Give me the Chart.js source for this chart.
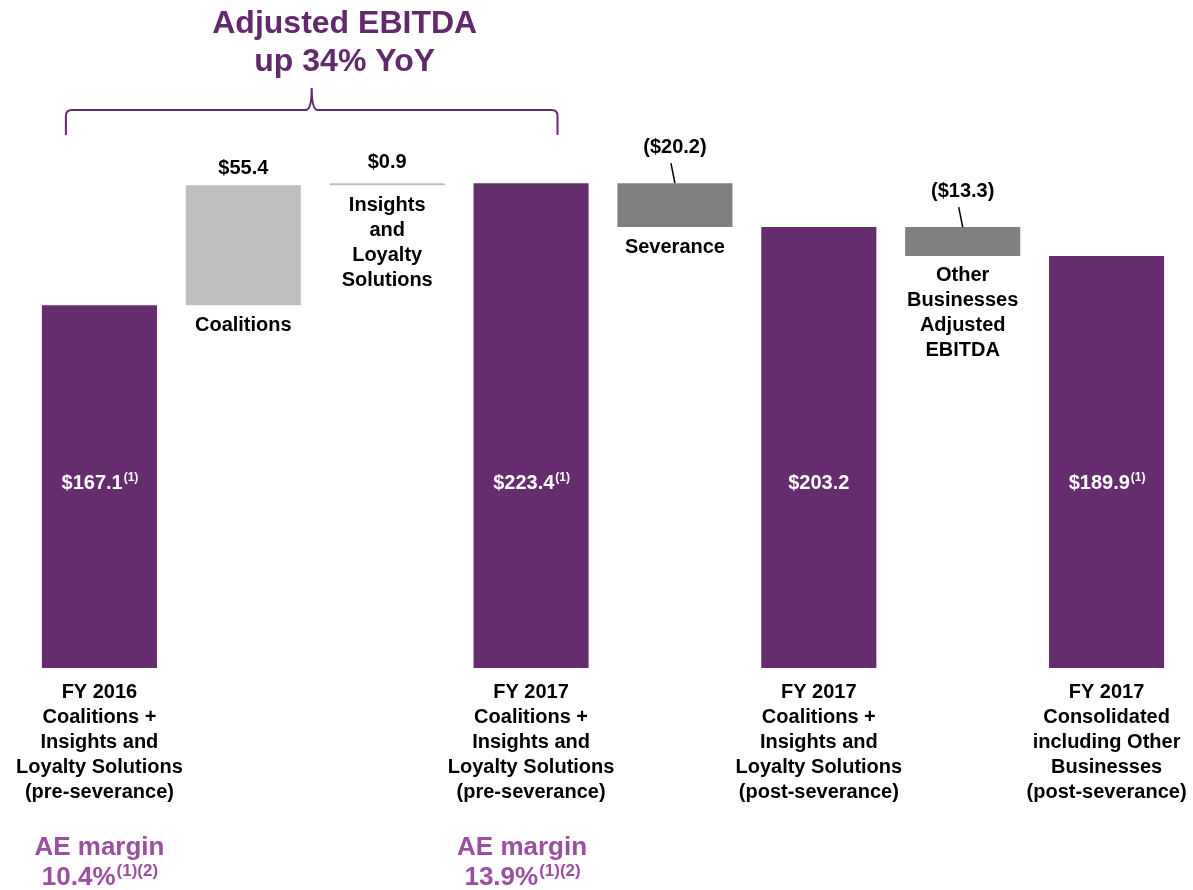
<!DOCTYPE html>
<html>
<head>
<meta charset="utf-8">
<script src="https://cdn.jsdelivr.net/npm/chart.js@4.4.1/dist/chart.umd.min.js"></script>
<style>
  html, body { margin: 0; padding: 0; background: #fff; }
  #wrap { width: 1193px; height: 890px; position: relative; }
</style>
</head>
<body>
<div id="wrap"><canvas id="bridgeChart"></canvas></div>
<script>
// --- data ---
const categories = [
  ['FY 2016', 'Coalitions +', 'Insights and', 'Loyalty Solutions', '(pre-severance)'],
  ['Coalitions'],
  ['Insights', 'and', 'Loyalty', 'Solutions'],
  ['FY 2017', 'Coalitions +', 'Insights and', 'Loyalty Solutions', '(pre-severance)'],
  ['Severance'],
  ['FY 2017', 'Coalitions +', 'Insights and', 'Loyalty Solutions', '(post-severance)'],
  ['Other', 'Businesses', 'Adjusted', 'EBITDA'],
  ['FY 2017', 'Consolidated', 'including Other', 'Businesses', '(post-severance)']
];
const barKinds = ['total', 'increase', 'increase', 'total', 'decrease', 'total', 'decrease', 'total'];
const values = [167.1, 55.4, 0.9, 223.4, -20.2, 203.2, -13.3, 189.9];
const valueLabels = ['$167.1', '$55.4', '$0.9', '$223.4', '($20.2)', '$203.2', '($13.3)', '$189.9'];
const valueNotes = ['(1)', '', '', '(1)', '', '', '', '(1)'];
const marginBars = [0, 3];
const marginValues = ['10.4%', '13.9%'];
const marginNote = '(1)(2)';
const titleLines = ['Adjusted EBITDA', 'up 34% YoY'];

const colors = { total: '#652D6D', increase: '#BFBFBF', decrease: '#808080' };

// floating ranges for the bridge, built from the running total
let running = 0;
const ranges = values.map((v, i) => {
  if (barKinds[i] === 'total') { running = v; return [0, v]; }
  const start = running;
  running = +(running + v).toFixed(1);
  return [Math.min(start, running), Math.max(start, running)];
});

const FONT = '"Liberation Sans", Arial, sans-serif';

function textWithNote(ctx, main, note, cx, cy, size, noteSize, raise) {
  ctx.font = `bold ${size}px ${FONT}`;
  const w1 = ctx.measureText(main).width;
  ctx.font = `bold ${noteSize}px ${FONT}`;
  const w2 = note ? ctx.measureText(note).width : 0;
  const left = cx - (w1 + w2) / 2;
  ctx.textAlign = 'left';
  ctx.font = `bold ${size}px ${FONT}`;
  ctx.fillText(main, left, cy);
  if (note) {
    ctx.font = `bold ${noteSize}px ${FONT}`;
    ctx.fillText(note, left + w1 + 1, cy - raise);
  }
  ctx.textAlign = 'center';
}

const annotate = {
  id: 'annotate',
  afterDatasetsDraw(chart) {
    const ctx = chart.ctx;
    const yScale = chart.scales.y;
    const meta = chart.getDatasetMeta(0);
    ctx.save();
    ctx.textAlign = 'center';
    ctx.textBaseline = 'middle';

    meta.data.forEach((bar, i) => {
      const kind = barKinds[i];
      const top = Math.min(bar.y, bar.base);
      const bottom = Math.max(bar.y, bar.base);
      if (kind === 'total') {
        ctx.fillStyle = '#ffffff';
        textWithNote(ctx, valueLabels[i], valueNotes[i], bar.x, yScale.getPixelForValue(85), 20, 12, 6);
        ctx.fillStyle = '#000000';
        ctx.font = `bold 20px ${FONT}`;
        categories[i].forEach((line, k) => ctx.fillText(line, bar.x, bottom + 24 + k * 25));
      } else {
        ctx.fillStyle = '#000000';
        ctx.font = `bold 20px ${FONT}`;
        if (kind === 'decrease') {
          ctx.fillText(valueLabels[i], bar.x, top - 36);
          ctx.strokeStyle = '#000000';
          ctx.lineWidth = 1.5;
          ctx.beginPath();
          ctx.moveTo(bar.x - 4, top - 20);
          ctx.lineTo(bar.x, top);
          ctx.stroke();
        } else {
          ctx.fillText(valueLabels[i], bar.x, top - (values[i] < 2 ? 21 : 17));
        }
        categories[i].forEach((line, k) => ctx.fillText(line, bar.x, bottom + 20 + k * 25));
      }
    });

    // AE margin notes
    ctx.fillStyle = '#9B4FA0';
    marginBars.forEach((idx, m) => {
      const bar = meta.data[idx];
      const cx = bar.x - (m === 1 ? 9 : 0);
      ctx.font = `bold 26px ${FONT}`;
      ctx.fillText('AE margin', cx, 848);
      textWithNote(ctx, marginValues[m], marginNote, cx, 878, 26, 17, 7);
    });

    // title and brace over the first four bars
    const b0 = meta.data[0], b3 = meta.data[3];
    const bl = b0.x - b0.width / 2 + 24, br = b3.x - b3.width / 2 + 84;
    const mid = (bl + br) / 2;
    ctx.fillStyle = '#612A6B';
    ctx.font = `bold 32px ${FONT}`;
    titleLines.forEach((t, k) => ctx.fillText(t, mid + 33, 24 + k * 38));

    ctx.strokeStyle = '#612A6B';
    ctx.lineWidth = 2;
    ctx.beginPath();
    ctx.moveTo(bl, 135);
    ctx.lineTo(bl, 116);
    ctx.quadraticCurveTo(bl, 110, bl + 6, 110);
    ctx.lineTo(mid - 6, 110);
    ctx.quadraticCurveTo(mid, 110, mid, 88);
    ctx.quadraticCurveTo(mid, 110, mid + 6, 110);
    ctx.lineTo(br - 6, 110);
    ctx.quadraticCurveTo(br, 110, br, 116);
    ctx.lineTo(br, 135);
    ctx.stroke();
    ctx.restore();
  }
};

new Chart(document.getElementById('bridgeChart'), {
  type: 'bar',
  data: {
    labels: categories.map(c => c.join(' ')),
    datasets: [{
      data: ranges,
      backgroundColor: barKinds.map(k => colors[k]),
      borderWidth: 0,
      barPercentage: 0.8,
      categoryPercentage: 1.0
    }]
  },
  options: {
    responsive: true,
    maintainAspectRatio: false,
    animation: false,
    layout: { padding: { left: 27.5, right: 14.5, top: 145, bottom: 222 } },
    plugins: {
      legend: { display: false },
      tooltip: { enabled: false }
    },
    scales: {
      x: { display: false },
      y: { display: false, min: 0, max: 241 }
    }
  },
  plugins: [annotate]
});
</script>
</body>
</html>
